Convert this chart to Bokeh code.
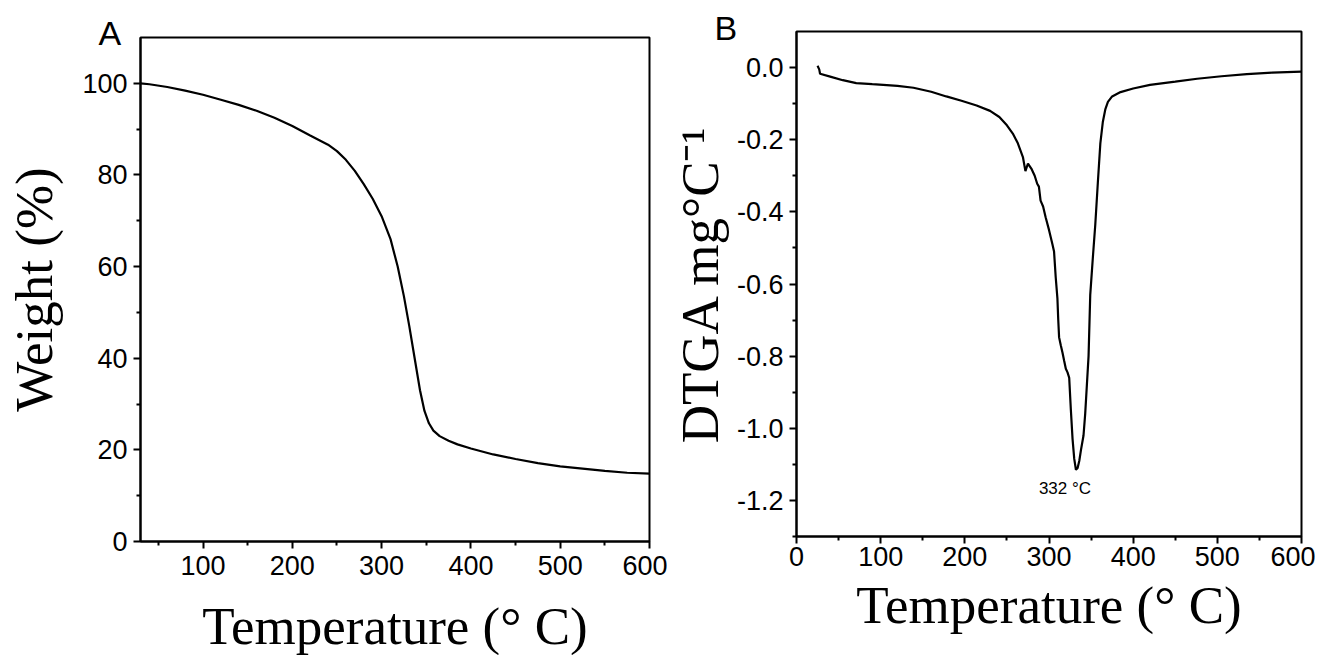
from bokeh.plotting import figure
from bokeh.layouts import row, column
from bokeh.models import Range1d, FixedTicker, PrintfTickFormatter, Label, GlobalInlineStyleSheet
from bokeh.embed import file_html
from bokeh.resources import INLINE

# ---- Panel A: TGA ----
tga_temp = [30, 40, 60, 80, 100, 120, 140, 160, 180, 200, 220, 240, 250, 260, 270,
            280, 290, 300, 310, 318, 325, 331, 337, 343, 348, 353, 358, 365, 375, 385,
            400, 425, 450, 475, 500, 525, 550, 575, 600]
tga_weight = [100.0, 99.8, 99.2, 98.4, 97.5, 96.4, 95.3, 94.0, 92.5, 90.7, 88.6, 86.6,
              85.2, 83.3, 80.9, 78.0, 74.8, 71.0, 66.0, 60.0, 53.5, 47.0, 40.0, 33.0,
              28.5, 25.8, 24.2, 23.0, 22.0, 21.2, 20.3, 19.0, 18.0, 17.1, 16.4, 15.9,
              15.4, 15.0, 14.8]

# ---- Panel B: DTGA ----
dtga_temp = [25, 27, 28, 40, 55, 71, 90, 103, 120, 139, 160, 178, 196, 214, 230, 241,
             250, 257, 263, 269, 272, 275, 279, 283, 286, 288, 290, 293, 296, 300, 304,
             306, 308, 310, 311, 312, 314, 316, 318, 320, 322, 324, 326, 328, 330, 332,
             334, 336, 338, 341, 343, 345, 347, 349, 352, 355, 358, 361, 364, 367, 370,
             375, 385, 400, 420, 450, 476, 505, 535, 565, 600]
dtga_value = [0.005, -0.005, -0.017, -0.025, -0.035, -0.043, -0.046, -0.048, -0.051,
              -0.056, -0.067, -0.080, -0.092, -0.105, -0.120, -0.137, -0.160, -0.183,
              -0.210, -0.248, -0.287, -0.266, -0.280, -0.300, -0.322, -0.330, -0.369,
              -0.385, -0.415, -0.450, -0.489, -0.510, -0.582, -0.640, -0.700, -0.748,
              -0.770, -0.790, -0.813, -0.835, -0.845, -0.860, -0.950, -1.030, -1.085,
              -1.115, -1.110, -1.090, -1.060, -1.020, -0.960, -0.880, -0.800, -0.630,
              -0.530, -0.435, -0.320, -0.210, -0.150, -0.115, -0.095, -0.080, -0.068,
              -0.058, -0.048, -0.039, -0.031, -0.024, -0.018, -0.014, -0.011]

a_xticks = [100, 200, 300, 400, 500, 600]
a_xminor = [50, 150, 250, 350, 450, 550]
a_yticks = [0, 20, 40, 60, 80, 100]
a_yminor = [10, 30, 50, 70, 90]
b_xticks = [0, 100, 200, 300, 400, 500, 600]
b_xminor = [50, 150, 250, 350, 450, 550]
b_yticks = [0.0, -0.2, -0.4, -0.6, -0.8, -1.0, -1.2]
b_yminor = [-0.1, -0.3, -0.5, -0.7, -0.9, -1.1, -1.3]

peak_label = "332 °C"
x_title = "Temperature (° C)"

SANS = "Liberation Sans"
SERIF = "Liberation Serif"


def style(p, xt, xm, yt, ym, letter, letter_offset, letter_standoff):
    p.grid.visible = False
    p.outline_line_color = "black"
    p.outline_line_width = 2
    p.outline_line_alpha = 1
    p.background_fill_color = "white"
    p.border_fill_color = "white"
    p.xaxis.ticker = FixedTicker(ticks=xt, minor_ticks=xm)
    p.yaxis.ticker = FixedTicker(ticks=yt, minor_ticks=ym)
    for ax in (p.xaxis[0], p.yaxis[0]):
        ax.axis_line_width = 2
        ax.axis_line_color = "black"
        ax.major_tick_line_width = 2
        ax.minor_tick_line_width = 2
        ax.major_tick_line_color = "black"
        ax.minor_tick_line_color = "black"
        ax.major_tick_in = 0
        ax.major_tick_out = 7
        ax.minor_tick_in = 0
        ax.minor_tick_out = 4
        ax.major_label_text_font = SANS
        ax.major_label_text_font_size = "27px"
        ax.major_label_text_color = "black"
        ax.major_label_standoff = 6
        ax.axis_label_text_font = SERIF
        ax.axis_label_text_font_size = "53px"
        ax.axis_label_text_font_style = "normal"
        ax.axis_label_text_color = "black"
    p.title.text = letter
    p.title.text_font = SANS
    p.title.text_font_size = "34px"
    p.title.text_font_style = "normal"
    p.title.text_color = "black"
    p.title.align = "left"
    p.title.offset = letter_offset
    p.title.standoff = letter_standoff


# Panel A
pA = figure(width=667, height=670, output_backend="svg",
            toolbar_location=None, x_range=Range1d(30, 600), y_range=Range1d(0, 110),
            min_border_left=140, min_border_right=18, min_border_top=37,
            min_border_bottom=129)
pA.line(tga_temp, tga_weight, line_color="black", line_width=2.2)
style(pA, a_xticks, a_xminor, a_yticks, a_yminor, "A", -42, -28)
pA.xaxis.axis_label = x_title
pA.yaxis.axis_label = "Weight (%)"
pA.xaxis.major_label_standoff = 7
pA.xaxis.axis_label_standoff = 19
pA.yaxis.axis_label_standoff = 16

# Panel B
pB = figure(width=648, height=655, output_backend="svg",
            toolbar_location=None, x_range=Range1d(0, 600), y_range=Range1d(-1.3, 0.1),
            min_border_left=129, min_border_right=14, min_border_top=31,
            min_border_bottom=119)
pB.line(dtga_temp, dtga_value, line_color="black", line_width=2.2)
style(pB, b_xticks, b_xminor, b_yticks, b_yminor, "B", -82, -31)
pB.yaxis.formatter = PrintfTickFormatter(format="%.1f")
pB.xaxis.axis_label = x_title
pB.yaxis.axis_label = "DTGA mg°C⁻¹"
pB.xaxis.major_label_standoff = 3
pB.xaxis.axis_label_standoff = 7
pB.yaxis.major_label_standoff = 6
pB.yaxis.axis_label_standoff = 5
pB.add_layout(Label(x=319, y=-1.166, text=peak_label, text_font=SANS,
                    text_font_size="17px", text_align="center",
                    text_baseline="middle", text_color="black"))

sheet = GlobalInlineStyleSheet(css="html, body { overflow: hidden !important; }")
layout = row(column(pA), column(pB), stylesheets=[sheet])
open("out.html", "w").write(file_html(layout, INLINE))
